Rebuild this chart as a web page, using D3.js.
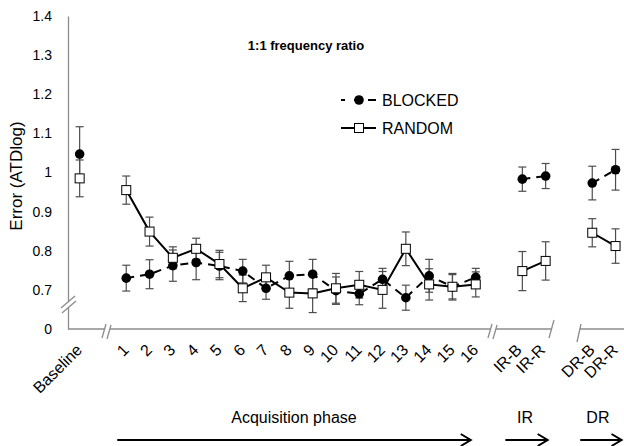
<!DOCTYPE html>
<html>
<head>
<meta charset="utf-8">
<script src="https://cdn.jsdelivr.net/npm/d3@7"></script>
<style>
  body { margin: 0; background: #fff; }
  svg { display: block; font-family: Arial, "Liberation Sans", sans-serif; }
</style>
</head>
<body>
<script>
// categories along the x axis and the phase each one belongs to
const categories = ['Baseline', '1', '2', '3', '4', '5', '6', '7', '8', '9', '10', '11', '12', '13', '14', '15', '16', 'IR-B', 'IR-R', 'DR-B', 'DR-R']
const phases = ['base', 'acq', 'acq', 'acq', 'acq', 'acq', 'acq', 'acq', 'acq', 'acq', 'acq', 'acq', 'acq', 'acq', 'acq', 'acq', 'acq', 'ir', 'ir', 'dr', 'dr']

// mean error per category
const blocked = [1.047, 0.730, 0.740, 0.762, 0.770, 0.761, 0.748, 0.704, 0.736, 0.740, 0.698, 0.690, 0.727, 0.680, 0.736, 0.708, 0.732, 0.983, 0.991, 0.973, 1.007]
const blockedErr = [0.070, 0.033, 0.037, 0.040, 0.044, 0.035, 0.030, 0.028, 0.037, 0.038, 0.035, 0.028, 0.028, 0.032, 0.042, 0.031, 0.023, 0.031, 0.032, 0.043, 0.052]
const random = [0.985, 0.955, 0.849, 0.782, 0.805, 0.766, 0.704, 0.732, 0.693, 0.691, 0.704, 0.713, 0.700, 0.805, 0.714, 0.708, 0.714, 0.748, 0.774, 0.846, 0.812]
const randomErr = [0.047, 0.036, 0.037, 0.028, 0.027, 0.035, 0.034, 0.031, 0.040, 0.049, 0.038, 0.034, 0.047, 0.043, 0.040, 0.034, 0.032, 0.050, 0.049, 0.036, 0.044]

// y ticks (0.6 position is shown as "0" below the axis break)
const yTicks = [0.6, 0.7, 0.8, 0.9, 1.0, 1.1, 1.2, 1.3, 1.4]

const W = 624, H = 446
const axisColor = '#8c8c8c'

const svg = d3.select('body').append('svg')
  .attr('width', W)
  .attr('height', H)

// x domain with an empty slot wherever the phase changes
const slots = []
categories.forEach((c, i) => {
  if (i > 0 && phases[i] !== phases[i - 1]) slots.push('_gap' + i)
  slots.push(c)
})

const x = d3.scalePoint()
  .domain(slots)
  .range([68, 68 + slots.length * 23.3])
  .padding(0.5)

const y = d3.scaleLinear()
  .domain([0.6, 1.4])
  .range([329, 16])

// rows for drawing
const series = [
  { name: 'BLOCKED', values: blocked, err: blockedErr, dash: '8,6' },
  { name: 'RANDOM', values: random, err: randomErr, dash: null }
].map(s => ({
  ...s,
  rows: categories.map((c, i) => ({ cat: c, phase: phases[i], v: s.values[i], e: s.err[i] }))
}))

// y axis
const yAxis = svg.append('g')
  .attr('transform', 'translate(68,0)')
  .call(d3.axisLeft(y).tickValues(yTicks).tickSize(0).tickPadding(16)
    .tickFormat(d => d < 0.65 ? '0' : String(+d.toFixed(1))))
yAxis.select('.domain').attr('stroke', axisColor).attr('stroke-width', 1.3)
yAxis.selectAll('text')
  .attr('font-size', 14)
  .attr('font-family', 'Arial, "Liberation Sans", sans-serif')
  .attr('fill', '#000')

// x axis
const xAxis = svg.append('g')
  .attr('transform', 'translate(0,329)')
  .call(d3.axisBottom(x).tickSize(0).tickFormat(d => d.startsWith('_gap') ? '' : d))
xAxis.select('.domain').remove()
xAxis.selectAll('text')
  .attr('font-size', 16)
  .attr('font-family', 'Arial, "Liberation Sans", sans-serif')
  .attr('fill', '#000')
  .attr('text-anchor', 'end')
  .attr('y', 0)
  .attr('dy', '0.35em')
  .attr('transform', d => `translate(${d.startsWith('IR') ? -4 : -1},18) rotate(-45)`)

// x axis line pieces (open between the IR and DR blocks)
const axisLines = svg.append('g').attr('stroke', axisColor).attr('stroke-width', 1.3).attr('fill', 'none')
axisLines.append('line').attr('x1', 68).attr('x2', 552).attr('y1', 329).attr('y2', 329)
axisLines.append('line').attr('x1', 580).attr('x2', W).attr('y1', 329).attr('y2', 329)
axisLines.append('line').attr('x1', 549).attr('y1', 338).attr('x2', 554).attr('y2', 320)
axisLines.append('line').attr('x1', 577).attr('y1', 342).attr('x2', 581).attr('y2', 324)

// "//" break marks
function breakMark(p1, p2, off) {
  const g = svg.append('g')
  g.append('polygon')
    .attr('points', [p1, p2, [p2[0] + off[0], p2[1] + off[1]], [p1[0] + off[0], p1[1] + off[1]]].map(p => p.join(',')).join(' '))
    .attr('fill', '#fff')
  g.append('line').attr('x1', p1[0]).attr('y1', p1[1]).attr('x2', p2[0]).attr('y2', p2[1])
    .attr('stroke', axisColor).attr('stroke-width', 1.3)
  g.append('line').attr('x1', p1[0] + off[0]).attr('y1', p1[1] + off[1]).attr('x2', p2[0] + off[0]).attr('y2', p2[1] + off[1])
    .attr('stroke', axisColor).attr('stroke-width', 1.3)
}
breakMark([61, 308], [75, 296], [1, 5])
breakMark([102, 338], [106, 324], [5, 1])
breakMark([488, 338], [492, 324], [5, 1])

// error bars
series.forEach(s => {
  const g = svg.append('g').attr('stroke', '#4d4d4d').attr('stroke-width', 1.2)
  s.rows.forEach(d => {
    const cx = x(d.cat)
    g.append('line').attr('x1', cx).attr('x2', cx).attr('y1', y(d.v - d.e)).attr('y2', y(d.v + d.e))
    g.append('line').attr('x1', cx - 4).attr('x2', cx + 4).attr('y1', y(d.v - d.e)).attr('y2', y(d.v - d.e))
    g.append('line').attr('x1', cx - 4).attr('x2', cx + 4).attr('y1', y(d.v + d.e)).attr('y2', y(d.v + d.e))
  })
})

// connecting lines, one per phase
const line = d3.line().x(d => x(d.cat)).y(d => y(d.v))
series.forEach(s => {
  d3.groups(s.rows, d => d.phase).forEach(([, rows]) => {
    if (rows.length < 2) return
    svg.append('path')
      .datum(rows)
      .attr('d', line)
      .attr('fill', 'none')
      .attr('stroke', '#000')
      .attr('stroke-width', 2)
      .attr('stroke-dasharray', s.dash)
  })
})

// markers
svg.append('g').selectAll('circle')
  .data(series[0].rows)
  .join('circle')
    .attr('cx', d => x(d.cat))
    .attr('cy', d => y(d.v))
    .attr('r', 4.8)
    .attr('fill', '#000')

svg.append('g').selectAll('rect')
  .data(series[1].rows)
  .join('rect')
    .attr('x', d => x(d.cat) - 4.5)
    .attr('y', d => y(d.v) - 4.5)
    .attr('width', 9)
    .attr('height', 9)
    .attr('fill', '#fff')
    .attr('stroke', '#000')
    .attr('stroke-width', 1)

// title and y label
svg.append('text')
  .attr('x', 306).attr('y', 50)
  .attr('text-anchor', 'middle')
  .attr('font-size', 13).attr('font-weight', 'bold')
  .text('1:1 frequency ratio')

svg.append('text')
  .attr('transform', 'translate(22,176) rotate(-90)')
  .attr('text-anchor', 'middle')
  .attr('font-size', 17)
  .text('Error (ATDlog)')

// legend
const legend = svg.append('g')
legend.append('line').attr('x1', 341).attr('x2', 376).attr('y1', 100).attr('y2', 100)
  .attr('stroke', '#000').attr('stroke-width', 2).attr('stroke-dasharray', '4,9,8,6,8')
legend.append('circle').attr('cx', 359).attr('cy', 100).attr('r', 4.8).attr('fill', '#000')
legend.append('text').attr('x', 382).attr('y', 100).attr('dy', '0.35em').attr('font-size', 16).text('BLOCKED')
legend.append('line').attr('x1', 341).attr('x2', 376).attr('y1', 128).attr('y2', 128)
  .attr('stroke', '#000').attr('stroke-width', 2)
legend.append('rect').attr('x', 354.5).attr('y', 123.5).attr('width', 9).attr('height', 9)
  .attr('fill', '#fff').attr('stroke', '#000')
legend.append('text').attr('x', 382).attr('y', 128).attr('dy', '0.35em').attr('font-size', 16).text('RANDOM')

// phase labels with arrows
const phaseNotes = [
  { label: 'Acquisition phase', x1: x('1') - 9, x2: x('16') - 5, tx: (x('1') + x('16')) / 2 - 7 },
  { label: 'IR', x1: x('IR-B') - 17, x2: x('IR-R') + 2, tx: (x('IR-B') + x('IR-R')) / 2 - 9 },
  { label: 'DR', x1: x('DR-B') - 12, x2: x('DR-R') + 6, tx: (x('DR-B') + x('DR-R')) / 2 - 6 }
]
const notes = svg.append('g')
phaseNotes.forEach(n => {
  notes.append('text').attr('x', n.tx).attr('y', 423).attr('text-anchor', 'middle').attr('font-size', 16).text(n.label)
  notes.append('line').attr('x1', n.x1).attr('x2', n.x2).attr('y1', 440).attr('y2', 440)
    .attr('stroke', '#000').attr('stroke-width', 2)
  notes.append('path')
    .attr('d', `M${n.x2 - 10},${440 - 6}L${n.x2},440L${n.x2 - 10},${440 + 6}`)
    .attr('fill', 'none').attr('stroke', '#000').attr('stroke-width', 2)
})
</script>
</body>
</html>
